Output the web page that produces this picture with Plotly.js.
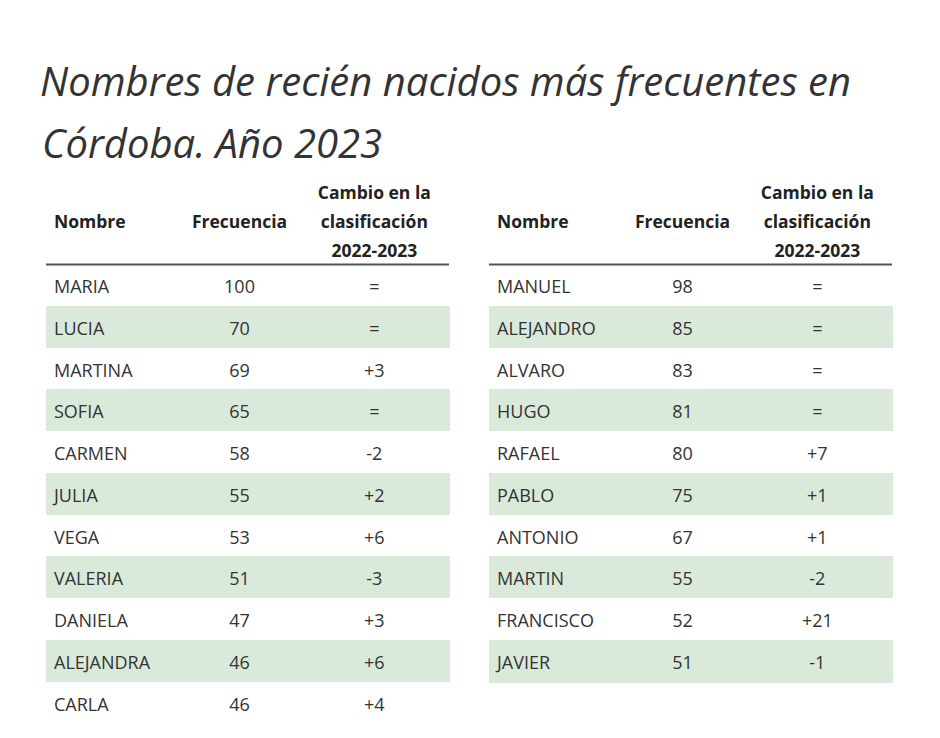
<!DOCTYPE html>
<html>
<head>
<meta charset="utf-8">
<script src="https://cdn.plot.ly/plotly-3.0.1.min.js"></script>
<style>html,body{margin:0;padding:0;background:#fff;}#chart{width:940px;height:738px;}</style>
</head>
<body>
<div id="chart"></div>
<script>
// Data
const titleLine1 = "Nombres de recién nacidos más frecuentes en";
const titleLine2 = "Córdoba. Año 2023";
const headerTop = ["", "", "Cambio en la"];
const headerMid = ["Nombre", "Frecuencia", "clasificación"];
const headerBot = ["", "", "2022-2023"];

const girlsNames = ["MARIA","LUCIA","MARTINA","SOFIA","CARMEN","JULIA","VEGA","VALERIA","DANIELA","ALEJANDRA","CARLA"];
const girlsFreq = [100,70,69,65,58,55,53,51,47,46,46];
const girlsChange = ["=","=","+3","=","-2","+2","+6","-3","+3","+6","+4"];

const boysNames = ["MANUEL","ALEJANDRO","ALVARO","HUGO","RAFAEL","PABLO","ANTONIO","MARTIN","FRANCISCO","JAVIER"];
const boysFreq = [98,85,83,81,80,75,67,55,52,51];
const boysChange = ["=","=","=","=","+7","+1","+1","-2","+21","-1"];

const W = 940, H = 738;
const band = "#d9eadb";
const FONT = "Open Sans";
const TABLE_TOP = 177.5;   // px from top
const TEXT_SHIFT = 7;      // px: centers body text vertically inside rows
const COLW = [133, 120, 149];
const CLEAR = "rgba(0,0,0,0)";

function stripes(n){ const a=[]; for(let i=0;i<n;i++) a.push(i%2===1?band:"#ffffff"); return a; }
function blanks(n){ return new Array(n).fill(""); }
function headerCols(){ return [0,1,2].map(i => [headerTop[i], headerMid[i], headerBot[i]]); }

// Table drawing the header and the striped row fills
function makeFillTable(names, x0, x1){
  const n = names.length;
  const fills = stripes(n);
  return {
    type: "table",
    domain: {x: [x0/W, x1/W], y: [0, 1 - TABLE_TOP/H]},
    columnwidth: COLW,
    header: {
      values: headerCols(),
      align: ["left","center","center"],
      height: 29,
      fill: {color: "#ffffff"},
      line: {color: "#ffffff", width: 1},
      font: {family: FONT, size: 17.5, color: "#222", weight: "bold"}
    },
    cells: {
      values: [blanks(n), blanks(n), blanks(n)],
      align: ["left","center","center"],
      height: 41.75,
      fill: {color: [fills, fills, fills]},
      line: {color: [fills, fills, fills], width: 1},
      font: {family: FONT, size: 18, color: "#333"}
    }
  };
}

// Transparent table drawing the body values, vertically centered in the rows
function makeTextTable(names, freq, change, x0, x1){
  return {
    type: "table",
    domain: {x: [x0/W, x1/W], y: [0, 1 - (TABLE_TOP + TEXT_SHIFT)/H]},
    columnwidth: COLW,
    header: {
      values: [[""], [""], [""]],
      height: 87,
      fill: {color: CLEAR},
      line: {color: CLEAR, width: 0},
      font: {family: FONT, size: 18, color: "#333"}
    },
    cells: {
      values: [names, freq, change],
      align: ["left","center","center"],
      height: 41.75,
      fill: {color: CLEAR},
      line: {color: CLEAR, width: 0},
      font: {family: FONT, size: 18, color: "#333"}
    }
  };
}

const data = [
  makeFillTable(girlsNames, 46, 449),
  makeFillTable(boysNames, 489, 892),
  makeTextTable(girlsNames, girlsFreq, girlsChange, 46, 449),
  makeTextTable(boysNames, boysFreq, boysChange, 489, 892)
];

const layout = {
  width: W, height: H,
  margin: {l:0, r:0, t:0, b:0},
  paper_bgcolor: "#ffffff",
  title: {
    text: "<i>" + titleLine1 + "</i>",
    x: 40/W, xanchor: "left", xref: "paper",
    y: 1 - 82/H, yanchor: "middle", yref: "paper",
    font: {family: FONT, size: 40, color: "#333", weight: 400}
  },
  annotations: [{
    text: "<i>" + titleLine2 + "</i>",
    x: 40/W, xanchor: "left", xref: "paper",
    y: 1 - 142/H, yanchor: "middle", yref: "paper",
    showarrow: false,
    font: {family: FONT, size: 40, color: "#333", weight: 400}
  }],
  shapes: [
    {type:"line", xref:"paper", yref:"paper", x0:46/W, x1:449/W, y0:1-264.5/H, y1:1-264.5/H, line:{color:"#555", width:2}},
    {type:"line", xref:"paper", yref:"paper", x0:489/W, x1:892/W, y0:1-264.5/H, y1:1-264.5/H, line:{color:"#555", width:2}}
  ]
};

Plotly.newPlot("chart", data, layout, {displayModeBar: false, staticPlot: true});
</script>
</body>
</html>
